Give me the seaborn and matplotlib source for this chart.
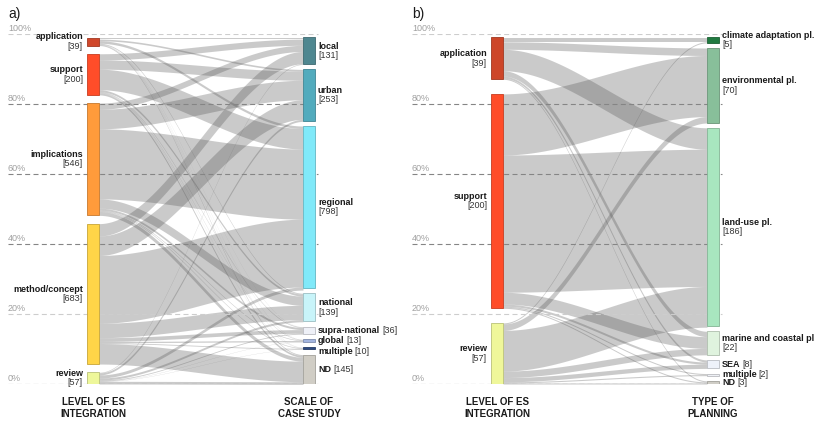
import numpy as np
import matplotlib
matplotlib.use("Agg")
import matplotlib.pyplot as plt
import seaborn as sns

# ---- data -------------------------------------------------------------
# a) level of ES integration -> scale of case study
level_a = ["application", "support", "implications", "method/concept", "review"]
scale_a = ["local", "urban", "regional", "national", "supra-national",
           "global", "multiple", "ND"]
flows_a = [
    [8, 8, 12, 4, 1, 1, 1, 4],
    [30, 45, 100, 10, 3, 2, 1, 9],
    [30, 95, 341, 45, 10, 3, 3, 19],
    [60, 95, 330, 70, 18, 6, 4, 100],
    [3, 10, 15, 10, 4, 1, 1, 13],
]

# b) level of ES integration -> type of planning
level_b = ["application", "support", "review"]
plan_b = ["climate adaptation pl.", "environmental pl.", "land-use pl.",
          "marine and coastal pl", "SEA", "multiple", "ND"]
flows_b = [
    [4, 7, 20, 5, 2, 0, 1],
    [0, 57, 128, 11, 2, 1, 1],
    [1, 6, 38, 6, 4, 1, 1],
]

pct_ticks = [100, 80, 60, 40, 20, 0]

# ---- colours ------------------------------------------------------------
col_level_a = ["#d0482c", "#ff4d29", "#ff9b3b", "#ffd548", "#eef79a"]
col_scale_a = ["#4f8790", "#52abbd", "#80e9f9", "#c8f4f9", "#eef0f7",
               "#a3b5df", "#2f4b82", "#d0cdc5"]
col_level_b = ["#cd4629", "#ff4d29", "#eff79a"]
col_plan_b = ["#207a40", "#88bf9a", "#a8e6bf", "#dff3de", "#eef2fa",
              "#eef0f5", "#cfcdc6"]
FLOW = (0.32, 0.32, 0.32)
TEXT = "#1b1b1b"

sns.set_theme(style="white")
plt.rcParams["font.family"] = ["Liberation Sans", "DejaVu Sans"]

fig = plt.figure(figsize=(8.15, 4.22), dpi=100)
renderer = fig.canvas.get_renderer()

TOP = 99.0
XL0, XL1 = 87, 99      # left stratum
XR0, XR1 = 303, 315    # right stratum


def stack(totals, gap_frac):
    n = len(totals)
    gap = TOP * gap_frac / (n - 1)
    unit = TOP * (1 - gap_frac) / sum(totals)
    y = TOP
    spans = []
    for t in totals:
        h = t * unit
        spans.append((y - h, y))
        y -= h + gap
    return spans, unit


def darker(c, f=0.78):
    r, g, b = matplotlib.colors.to_rgb(c)
    return (r * f, g * f, b * f)


def draw_flows(ax, flows, lspans, rspans, unit):
    flows = np.asarray(flows, float)
    m, n = flows.shape
    lcur = [t for (_, t) in lspans]
    rcur = [t for (_, t) in rspans]
    seg = {}
    for i in range(m):
        for j in range(n):
            h = flows[i, j] * unit
            seg[(i, j)] = [lcur[i] - h, lcur[i], 0, 0]
            lcur[i] -= h
    for j in range(n):
        for i in range(m):
            h = flows[i, j] * unit
            seg[(i, j)][2:] = [rcur[j] - h, rcur[j]]
            rcur[j] -= h
    xs = np.linspace(XL1, XR0, 160)
    u = (xs - XL1) / (XR0 - XL1)
    s = u * u * (3 - 2 * u)
    for (i, j), (lb, lt, rb, rt) in seg.items():
        if flows[i, j] <= 0:
            continue
        ax.fill_between(xs, lb + (rb - lb) * s, lt + (rt - lt) * s,
                        color=FLOW, alpha=0.3, lw=0, zorder=2)


def draw_nodes(ax, spans, colors, x0, x1):
    for (b, t), c in zip(spans, colors):
        ax.bar((x0 + x1) / 2, t - b, bottom=b, width=x1 - x0, color=c,
               edgecolor=darker(c), linewidth=0.6, zorder=4)


def two_line(ax, x, yc, name, n, ha):
    ax.text(x, yc + 1.35, name, ha=ha, va="center", fontsize=6.5,
            fontweight="bold", color=TEXT, zorder=5, clip_on=False)
    ax.text(x, yc - 1.35, f"[{n}]", ha=ha, va="center", fontsize=6.5,
            color="#333333", zorder=5, clip_on=False)


def one_line(ax, x, yc, name, n):
    t = ax.text(x, yc, name, ha="left", va="center", fontsize=6.5,
                fontweight="bold", color=TEXT, zorder=5, clip_on=False)
    bb = t.get_window_extent(renderer=renderer)
    inv = ax.transData.inverted()
    xe = inv.transform((bb.x1, bb.y0))[0]
    ax.text(xe + 2.2, yc, f"[{n}]", ha="left", va="center", fontsize=6.5,
            color="#333333", zorder=5, clip_on=False)


def panel(ax, letter, left_names, right_names, flows, lcols, rcols,
          lgap, rgap, inline, nudge, left_title, right_title):
    ax.set_xlim(0, 407)
    ax.set_ylim(0, 100)
    ax.axis("off")
    flows_arr = np.asarray(flows)
    ltot = flows_arr.sum(axis=1)
    rtot = flows_arr.sum(axis=0)
    lspans, unit = stack(ltot, lgap)
    rspans, _ = stack(rtot, rgap)

    # percentage guides
    for p in pct_ticks:
        light = p in (100, 20)
        ax.plot([8, 318], [p, p], ls=(0, (4.5, 3)), lw=0.8,
                color="#cdcdcd" if light else "#858585", zorder=3)
        ax.text(8, p + 0.35, f"{p}%", ha="left", va="bottom", fontsize=6.5,
                color="#a0a0a0", zorder=5)

    draw_flows(ax, flows, lspans, rspans, unit)
    draw_nodes(ax, lspans, lcols, XL0, XL1)
    draw_nodes(ax, rspans, rcols, XR0, XR1)

    for (b, t), name, n in zip(lspans, left_names, ltot):
        two_line(ax, 83, (b + t) / 2, name, n, "right")
    for (b, t), name, n in zip(rspans, right_names, rtot):
        yc = (b + t) / 2 + nudge.get(name, 0)
        if name in inline:
            one_line(ax, 318, yc, name, n)
        else:
            two_line(ax, 318, yc, name, n, "left")

    ax.text(93, -6.9, left_title, ha="center", va="center", fontsize=7,
            fontweight="bold", color=TEXT, linespacing=1.2, clip_on=False)
    ax.text(309, -6.9, right_title, ha="center", va="center", fontsize=7,
            fontweight="bold", color=TEXT, linespacing=1.2, clip_on=False)
    ax.text(8, 105.8, letter, ha="left", va="center", fontsize=10,
            color=TEXT, clip_on=False)


ax_a = fig.add_axes([0, 38 / 422, 407 / 815, 350 / 422])
panel(ax_a, "a)", level_a, scale_a, flows_a, col_level_a, col_scale_a,
      0.095, 0.107, {"supra-national", "global", "multiple", "ND"},
      {"multiple": -1.0},
      "LEVEL OF ES\nINTEGRATION", "SCALE OF\nCASE STUDY")

ax_b = fig.add_axes([404 / 815, 38 / 422, 407 / 815, 350 / 422])
panel(ax_b, "b)", level_b, plan_b, flows_b, col_level_b, col_plan_b,
      0.084, 0.089, {"SEA", "multiple", "ND"}, {},
      "LEVEL OF ES\nINTEGRATION", "TYPE OF\nPLANNING")

fig.savefig("out.png", dpi=100, facecolor="white")
